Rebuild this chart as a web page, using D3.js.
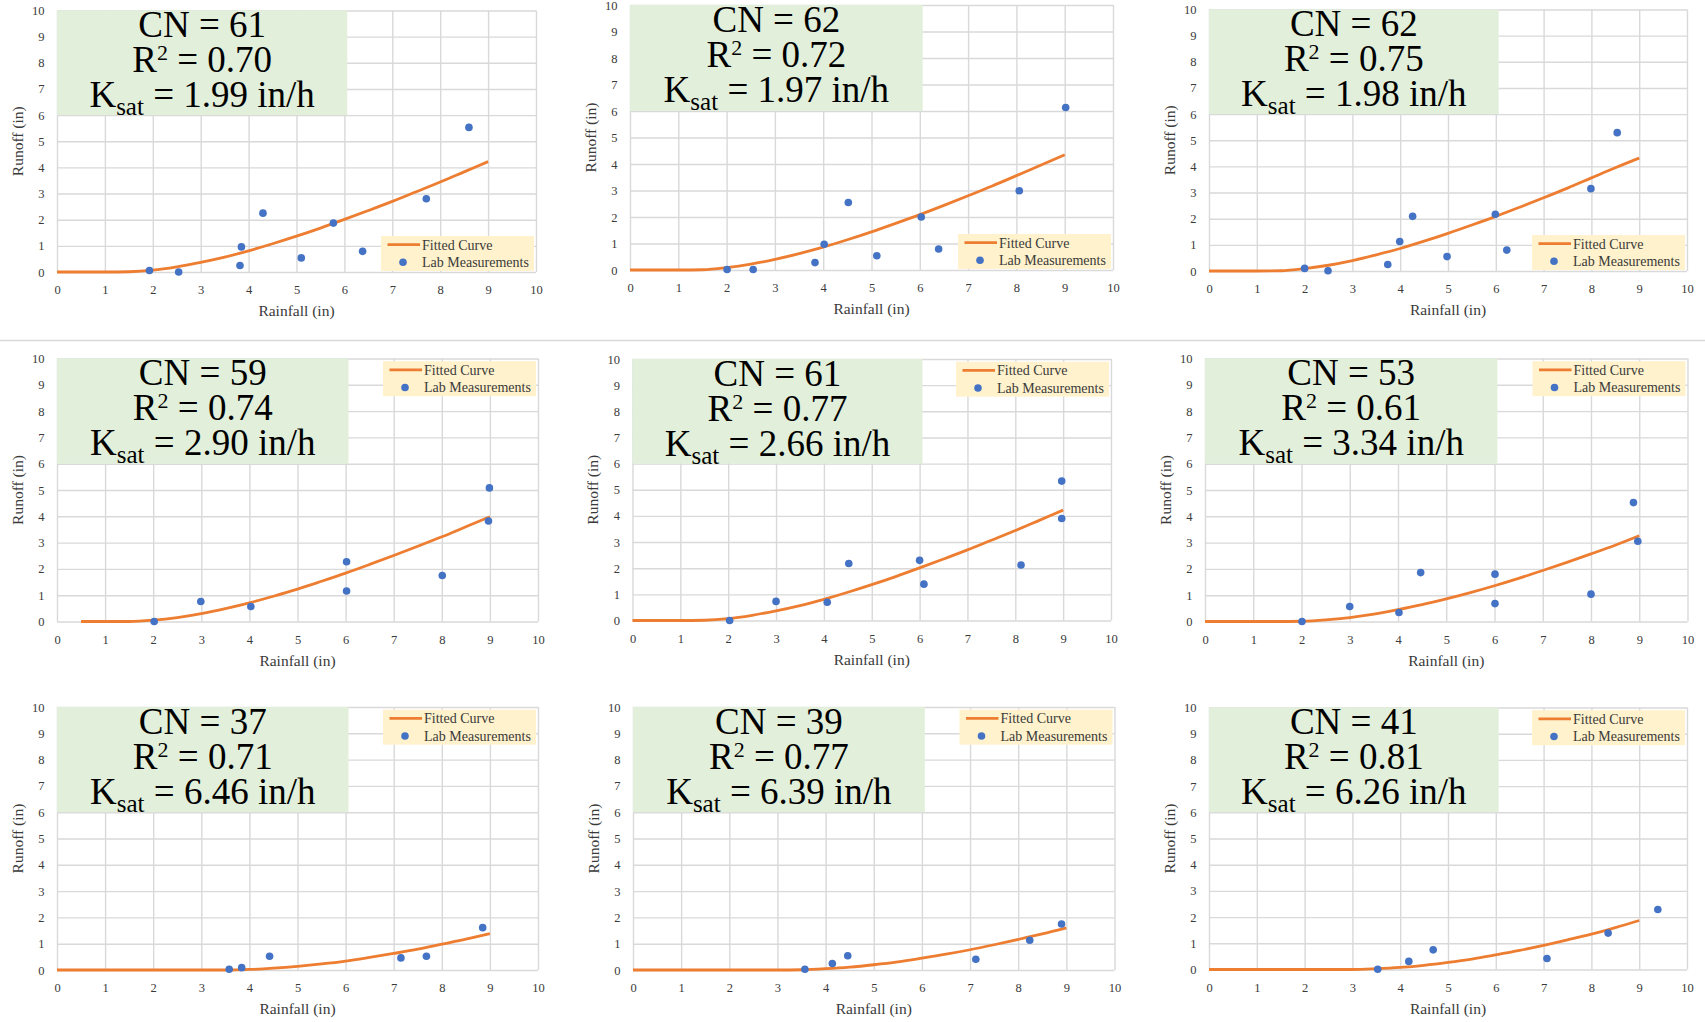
<!DOCTYPE html>
<html><head><meta charset="utf-8">
<script src="https://cdn.jsdelivr.net/npm/d3@7"></script>
<style>
body{margin:0;background:#fff}
svg{display:block}
text{font-family:"Liberation Serif","Times New Roman",serif}
</style>
</head><body>
<svg id="c" width="1705" height="1022"></svg>
<script>
// ---------- DATA ----------
const cnValues   = [61, 62, 62, 59, 61, 53, 37, 39, 41];
const r2Values   = ["0.70","0.72","0.75","0.74","0.77","0.61","0.71","0.77","0.81"];
const ksatValues = ["1.99","1.97","1.98","2.90","2.66","3.34","6.46","6.39","6.26"];
const axisTicks  = [0,1,2,3,4,5,6,7,8,9,10];
const xTitle = "Rainfall (in)";
const yTitle = "Runoff (in)";
const legendLabels = ["Fitted Curve", "Lab Measurements"];

// Lab measurements (rainfall, runoff) per panel
const measRainfall = [
  [1.93,2.54,3.82,3.85,4.30,5.10,5.77,6.38,7.71,8.60],
  [2.01,2.55,3.83,4.02,4.52,5.11,6.03,6.39,8.06,9.02],
  [2.00,2.49,3.74,3.99,4.26,4.98,5.99,6.23,7.99,8.54],
  [2.02,2.99,4.03,6.02,6.02,8.01,8.99,8.97],
  [2.03,3.00,4.07,4.52,6.00,6.09,8.12,8.97,8.97],
  [2.01,3.00,4.02,4.47,6.01,6.01,8.00,8.88,8.97],
  [3.58,3.84,4.42,7.15,7.68,8.85],
  [3.57,4.14,4.46,7.12,8.24,8.90],
  [3.53,4.18,4.69,7.07,8.35,9.39]
];
const measRunoff = [
  [0.06,0.00,0.25,0.96,2.25,0.54,1.87,0.79,2.80,5.53],
  [0.02,0.02,0.28,0.97,2.55,0.54,2.00,0.79,2.99,6.13],
  [0.10,0.01,0.25,1.13,2.09,0.55,2.17,0.80,3.15,5.29],
  [0.00,0.76,0.57,2.27,1.16,1.75,5.08,3.82],
  [0.00,0.73,0.70,2.18,2.30,1.39,2.12,5.33,3.90],
  [0.00,0.57,0.34,1.86,1.80,0.68,1.04,4.52,3.05],
  [0.03,0.09,0.52,0.46,0.52,1.61],
  [0.03,0.25,0.54,0.41,1.13,1.75],
  [0.01,0.31,0.75,0.42,1.39,2.29]
];

// Fitted curve points per panel
const curveP_full = [0,0.5,1,1.5,2,2.5,3,3.5,4,4.5,5,5.5,6,6.5,7,7.5,8,8.5,9];
const curveP_half = [0.5,1,1.5,2,2.5,3,3.5,4,4.5,5,5.5,6,6.5,7,7.5,8,8.5,9];
const curveRainfall = [curveP_full, curveP_full, curveP_full, curveP_half, curveP_full,
                       curveP_full, curveP_full, curveP_full, curveP_full];
const curveRunoff = [
  [0,0,0,0.01,0.07,0.20,0.37,0.57,0.81,1.08,1.37,1.68,2.01,2.35,2.70,3.07,3.44,3.83,4.22],
  [0,0,0,0.01,0.09,0.22,0.40,0.62,0.86,1.14,1.44,1.76,2.09,2.44,2.80,3.17,3.56,3.95,4.35],
  [0,0,0,0.01,0.09,0.22,0.40,0.62,0.86,1.14,1.44,1.76,2.09,2.44,2.80,3.17,3.56,3.95,4.32],
  [0,0,0.00,0.05,0.15,0.30,0.49,0.71,0.96,1.23,1.53,1.84,2.17,2.51,2.86,3.22,3.60,3.98],
  [0,0,0,0.01,0.07,0.20,0.37,0.57,0.81,1.08,1.37,1.68,2.01,2.35,2.70,3.07,3.44,3.83,4.22],
  [0,0,0,0,0.01,0.06,0.15,0.28,0.45,0.64,0.86,1.10,1.36,1.64,1.94,2.25,2.57,2.90,3.26],
  [0,0,0,0,0,0,0,0.00,0.02,0.07,0.14,0.23,0.34,0.48,0.63,0.79,0.98,1.17,1.38],
  [0,0,0,0,0,0,0,0.01,0.05,0.11,0.20,0.31,0.45,0.60,0.77,0.96,1.16,1.37,1.60],
  [0,0,0,0,0,0,0.00,0.03,0.08,0.16,0.27,0.40,0.56,0.73,0.92,1.13,1.35,1.60,1.87]
];

// ---------- LAYOUT ----------
const panels = [
  {l:57,   t:10.5,  r:536,    b:272},
  {l:630,  t:5,     r:1113,   b:270},
  {l:1209, t:9.5,   r:1687,   b:271},
  {l:57,   t:358.5, r:538,    b:621.5},
  {l:632.5,t:359,   r:1111,   b:620.5},
  {l:1205, t:358.5, r:1687.5, b:621.5},
  {l:57,   t:707,   r:538,    b:970},
  {l:633,  t:707,   r:1114.5, b:970},
  {l:1209, t:707.5, r:1687,   b:969.5}
];
const BOX_X = 6.06, BOX_Y = 6;
const ORANGE = "#ED7D31", BLUE = "#4472C4", GRID = "#D9D9D9";
const LABEL = "#3a3a3a";

const svg = d3.select("#c");
svg.append("rect").attr("width",1705).attr("height",1022).attr("fill","#fff");
svg.append("line").attr("x1",0).attr("x2",1705).attr("y1",340.5).attr("y2",340.5)
   .attr("stroke",GRID).attr("stroke-width",1.5);

panels.forEach((L, i) => {
  const x = d3.scaleLinear().domain([0,10]).range([L.l, L.r]);
  const y = d3.scaleLinear().domain([0,10]).range([L.b, L.t]);
  const g = svg.append("g");
  const W = L.r - L.l, H = L.b - L.t;

  // gridlines + tick labels
  const ya = g.append("g").attr("transform",`translate(${L.l},0)`)
    .call(d3.axisLeft(y).tickValues(axisTicks).tickSize(-W).tickPadding(12.5).tickFormat(d3.format("d")));
  const xa = g.append("g").attr("transform",`translate(0,${L.b})`)
    .call(d3.axisBottom(x).tickValues(axisTicks).tickSize(-H).tickPadding(13.5).tickFormat(d3.format("d")));
  [ya, xa].forEach(a => {
    a.select(".domain").remove();
    a.selectAll(".tick line").attr("stroke",GRID).attr("stroke-width",1.4);
    a.selectAll(".tick text").attr("fill",LABEL).attr("font-size",12.5)
      .attr("font-family",'"Liberation Serif","Times New Roman",serif');
  });

  // green annotation box
  g.append("rect").attr("x",x(0)).attr("y",y(10))
    .attr("width",x(BOX_X)-x(0)).attr("height",y(BOX_Y)-y(10)).attr("fill","#E2EFDA");
  const cx = x(BOX_X/2);
  g.append("text").attr("x",cx).attr("y",L.t+26.7).attr("text-anchor","middle")
    .attr("font-size",37).attr("fill","#000").text(`CN = ${cnValues[i]}`);
  const r2 = g.append("text").attr("x",cx).attr("y",L.t+61.7).attr("text-anchor","middle")
    .attr("font-size",37).attr("fill","#000");
  r2.append("tspan").text("R");
  r2.append("tspan").attr("font-size",22).attr("dy",-12).text("2");
  r2.append("tspan").attr("dy",12).text(` = ${r2Values[i]}`);
  const k = g.append("text").attr("x",cx).attr("y",L.t+96.7).attr("text-anchor","middle")
    .attr("font-size",37).attr("fill","#000");
  k.append("tspan").text("K");
  k.append("tspan").attr("font-size",25).attr("dy",8).text("sat");
  k.append("tspan").attr("dy",-8).text(` = ${ksatValues[i]} in/h`);

  // fitted curve
  const pts = curveRainfall[i].map((p,j) => [p, curveRunoff[i][j]]);
  g.append("path").datum(pts)
    .attr("d", d3.line().x(d=>x(d[0])).y(d=>y(d[1])).curve(d3.curveMonotoneX))
    .attr("fill","none").attr("stroke",ORANGE).attr("stroke-width",2.8)
    .attr("stroke-linejoin","round");

  // lab measurements
  g.selectAll("circle.m").data(measRainfall[i].map((p,j)=>[p, measRunoff[i][j]]))
    .enter().append("circle").attr("class","m")
    .attr("cx",d=>x(d[0])).attr("cy",d=>y(d[1])).attr("r",3.8).attr("fill",BLUE);

  // axis titles
  g.append("text").attr("x",(L.l+L.r)/2).attr("y",L.b+44).attr("text-anchor","middle")
    .attr("font-size",15.5).attr("fill",LABEL).text(xTitle);
  g.append("text").attr("transform",`translate(${L.l-39.5},${(L.t+L.b)/2}) rotate(-90)`)
    .attr("text-anchor","middle").attr("dy","0.35em")
    .attr("font-size",15.5).attr("fill",LABEL).text(yTitle);

  // legend
  const bw = 153, bh = 35;
  const bx = L.r - 2 - bw;
  const by = i < 3 ? L.b - 1 - bh : L.t + 2.7;
  const lg = g.append("g");
  lg.append("rect").attr("x",bx).attr("y",by).attr("width",bw).attr("height",bh).attr("fill","#FFF2CC");
  lg.append("line").attr("x1",bx+6.5).attr("x2",bx+39).attr("y1",by+8.6).attr("y2",by+8.6)
    .attr("stroke",ORANGE).attr("stroke-width",2.8);
  lg.append("circle").attr("cx",bx+22).attr("cy",by+26.3).attr("r",3.8).attr("fill",BLUE);
  lg.append("text").attr("x",bx+41).attr("y",by+8.6).attr("dy","0.35em")
    .attr("font-size",14).attr("fill",LABEL).text(legendLabels[0]);
  lg.append("text").attr("x",bx+41).attr("y",by+26.3).attr("dy","0.35em")
    .attr("font-size",14).attr("fill",LABEL).text(legendLabels[1]);
});
</script>
</body></html>
